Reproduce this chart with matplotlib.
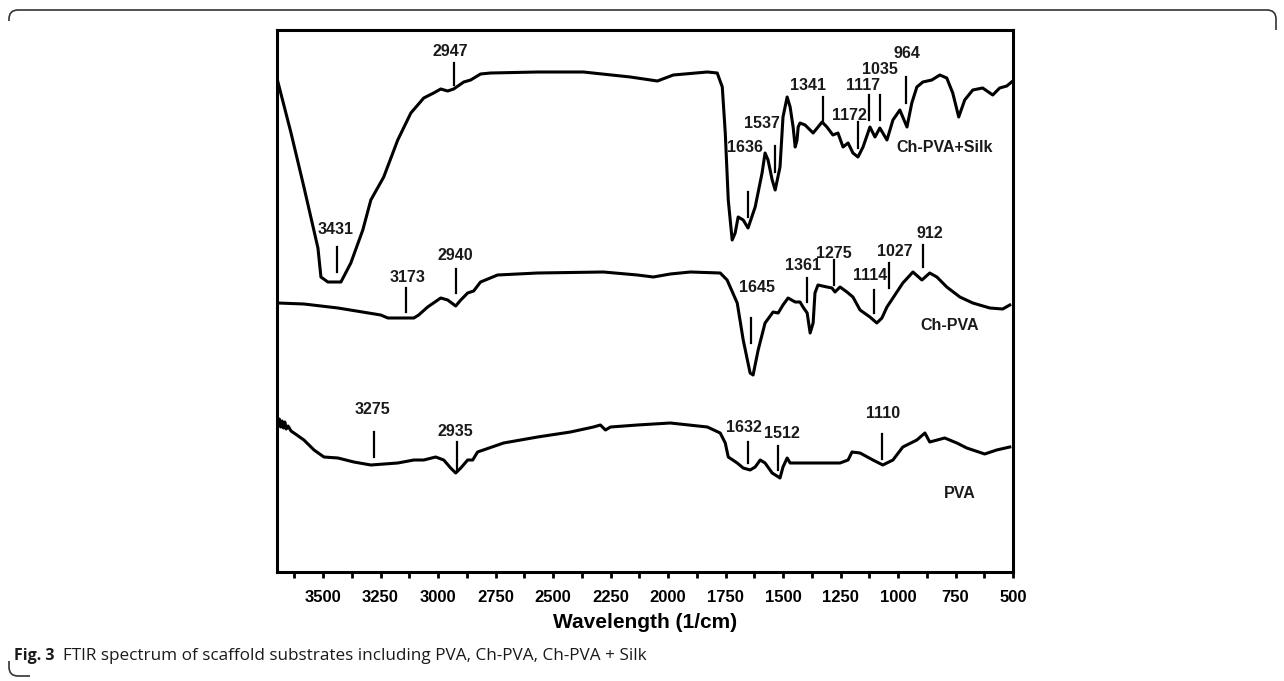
import numpy as np
import matplotlib
matplotlib.use("Agg")
import matplotlib.pyplot as plt
from matplotlib.path import Path
from matplotlib.patches import PathPatch
from matplotlib.ticker import MultipleLocator

plt.rcParams['font.family'] = ['Liberation Sans', 'DejaVu Sans']

# Ch-PVA+Silk spectrum (wavenumber, transmittance a.u.)
silk_wn = [3696, 3639, 3583, 3522, 3509, 3479, 3422, 3379, 3327, 3292, 3236, 3175,
           3118, 3062, 3019, 2988, 2958, 2932, 2888, 2858, 2815, 2771, 2567, 2368,
           2164, 2046, 1977, 1829, 1786, 1764, 1751, 1738, 1721, 1708, 1695, 1673,
           1652, 1621, 1591, 1578, 1565, 1547, 1534, 1513, 1500, 1482, 1469, 1456,
           1447, 1439, 1434, 1426, 1404, 1369, 1330, 1309, 1283, 1261, 1239, 1217,
           1196, 1174, 1152, 1122, 1100, 1079, 1048, 1022, 992, 961, 940, 918, 892,
           853, 818, 788, 762, 736, 710, 675, 632, 588, 558, 527, 506]
silk_t = [490, 439, 385, 324, 295, 290, 290, 309, 342, 372, 395, 432,
          459, 474, 479, 483, 481, 483, 490, 492, 498, 499, 500, 500,
          495, 491, 497, 500, 499, 485, 439, 372, 332, 339, 355, 352,
          344, 365, 399, 419, 412, 392, 382, 405, 455, 475, 465, 445,
          425, 432, 445, 449, 447, 439, 450, 445, 437, 439, 425, 429,
          419, 415, 425, 445, 435, 444, 432, 452, 462, 445, 469, 485, 490,
          492, 497, 494, 479, 455, 472, 482, 484, 477, 484, 486, 490]

# Ch-PVA spectrum
chpva_wn = [3696, 3583, 3435, 3249, 3218, 3105, 3084, 3045, 2988, 2958, 2923, 2901,
            2871, 2845, 2815, 2741, 2567, 2281, 2133, 2064, 1990, 1903, 1773, 1743,
            1699, 1673, 1643, 1630, 1608, 1578, 1543, 1521, 1500, 1478, 1447, 1426,
            1413, 1395, 1382, 1369, 1361, 1348, 1309, 1287, 1274, 1252, 1222, 1196,
            1165, 1122, 1092, 1070, 1048, 1022, 979, 935, 896, 862, 831, 788, 731,
            675, 601, 545, 514]
chpva_t = [269, 268, 264, 257, 254, 254, 257, 265, 274, 272, 266, 272,
           279, 281, 290, 297, 299, 300, 297, 295, 298, 300, 299, 292,
           269, 232, 199, 197, 222, 249, 260, 259, 267, 274, 270, 270,
           265, 259, 239, 249, 279, 287, 285, 284, 280, 285, 280, 275,
           262, 255, 249, 254, 265, 274, 289, 300, 292, 299, 295, 285, 275,
           269, 264, 263, 267]

# PVA spectrum
pva_wn = [3696, 3690, 3684, 3678, 3672, 3666, 3660, 3652, 3639, 3620, 3583, 3539,
          3496, 3435, 3366, 3292, 3175, 3105, 3062, 3010, 2975, 2945, 2923, 2901,
          2871, 2849, 2828, 2715, 2567, 2424, 2324, 2294, 2272, 2250, 2133, 1990,
          1829, 1773, 1751, 1738, 1699, 1673, 1643, 1621, 1599, 1578, 1547, 1513,
          1500, 1482, 1469, 1439, 1252, 1217, 1200, 1165, 1109, 1066, 1022, 979,
          918, 883, 862, 797, 744, 701, 623, 571, 514]
pva_t = [149, 153, 145, 151, 144, 150, 143, 146, 141, 138, 132, 122,
         115, 114, 110, 107, 109, 112, 112, 115, 112, 104, 99, 104,
         112, 112, 120, 129, 135, 140, 145, 147, 142, 145, 147, 149,
         145, 139, 129, 115, 109, 104, 102, 105, 112, 109, 99, 94,
         105, 114, 109, 109, 109, 112, 120, 119, 112, 107, 112, 125,
         132, 139, 130, 134, 129, 124, 118, 122, 125]

# peak labels: text, marker position, marker bottom/top, text position
silk_peaks = ['3431', '2947', '1636', '1537', '1341', '1172', '1117', '1035', '964']
silk_mark_x = [3440, 2932, 1652, 1534, 1326, 1174, 1126, 1079, 966]
silk_mark_y = [(300, 325), (487, 509), (355, 380), (400, 426), (449, 475),
               (424, 450), (452, 477), (452, 477), (469, 495)]
silk_text_xy = [(3444, 342), (2945, 520), (1665, 425), (1591, 449), (1391, 487),
                (1209, 457), (1152, 487), (1079, 502), (961, 519)]

chpva_peaks = ['3173', '2940', '1645', '1361', '1275', '1114', '1027', '912']
chpva_mark_x = [3140, 2923, 1639, 1395, 1278, 1105, 1040, 892]
chpva_mark_y = [(260, 284), (279, 303), (229, 254), (270, 294), (287, 312),
                (259, 282), (284, 309), (305, 327)]
chpva_text_xy = [(3131, 294), (2923, 316), (1612, 284), (1413, 307), (1278, 318),
                 (1122, 297), (1014, 321), (862, 339)]

pva_peaks = ['3275', '2935', '1632', '1512', '1110']
pva_mark_x = [3279, 2919, 1651, 1521, 1070]
pva_mark_y = [(115, 140), (102, 130), (109, 130), (102, 126), (113, 138)]
pva_text_xy = [(3283, 162), (2923, 141), (1669, 144), (1504, 138), (1066, 159)]

series_names = ['Ch-PVA+Silk', 'Ch-PVA', 'PVA']
series_name_xy = [(797, 424), (775, 247), (731, 79)]

W, H = 1284, 681
fig = plt.figure(figsize=(W / 100, H / 100), dpi=100)
ax = fig.add_axes([277 / W, 1 - 572 / H, 736 / W, 542 / H])

for wn, t in [(silk_wn, silk_t), (chpva_wn, chpva_t), (pva_wn, pva_t)]:
    ax.plot(wn, t, color='black', lw=2.2, solid_joinstyle='round')

for peaks, mx, my, txy in [(silk_peaks, silk_mark_x, silk_mark_y, silk_text_xy),
                           (chpva_peaks, chpva_mark_x, chpva_mark_y, chpva_text_xy),
                           (pva_peaks, pva_mark_x, pva_mark_y, pva_text_xy)]:
    for lab, x, (y0, y1), (tx, ty) in zip(peaks, mx, my, txy):
        ax.plot([x, x], [y0, y1], color='black', lw=1.6)
        ax.text(tx, ty, lab, ha='center', va='center', fontsize=11.5, fontweight='bold',
                color='#1a1a1a')

for name, (tx, ty) in zip(series_names, series_name_xy):
    ax.text(tx, ty, name, ha='center', va='center', fontsize=11.5, fontweight='bold',
            color='#1a1a1a')

ax.set_xlim(3700, 500)
ax.set_ylim(0, 542)
ax.xaxis.set_minor_locator(MultipleLocator(125))
ax.set_xticks(np.arange(500, 3501, 250))
ax.tick_params(axis='x', which='both', direction='out', length=4, width=2, pad=9,
               labelsize=12)
for lbl in ax.get_xticklabels():
    lbl.set_fontweight('bold')
ax.set_yticks([])
for sp in ax.spines.values():
    sp.set_linewidth(2.2)
ax.set_xlabel('Wavelength (1/cm)', fontsize=15, fontweight='bold', labelpad=6)

# caption
fig.text(14 / W, 1 - 656 / H, 'Fig. 3', fontsize=11.5, fontweight='bold',
         family='Open Sans', va='center', color='#1a1a1a')
fig.text(63 / W, 1 - 656 / H, 'FTIR spectrum of scaffold substrates including PVA, Ch-PVA, Ch-PVA + Silk',
         fontsize=12.35, family='Open Sans', va='center', color='#1a1a1a')

# rounded frame (left and top edges)
r = 9
verts = [(9, 660), (9, H - 10 - r), (9, H - 10), (9 + r, H - 10),
         (1276 - r, H - 10), (1276, H - 10), (1276, H - 10 - r), (1276, H - 30)]
codes = [Path.MOVETO, Path.LINETO, Path.CURVE3, Path.CURVE3,
         Path.LINETO, Path.CURVE3, Path.CURVE3, Path.LINETO]
frame = PathPatch(Path([(x / W, y / H) for x, y in verts], codes), fill=False,
                  lw=1.2, edgecolor='#333333', transform=fig.transFigure)
fig.add_artist(frame)
verts_b = [(9, 20), (9, 5 + r), (9, 5), (9 + r, 5), (30, 5)]
codes_b = [Path.MOVETO, Path.LINETO, Path.CURVE3, Path.CURVE3, Path.LINETO]
fig.add_artist(PathPatch(Path([(x / W, y / H) for x, y in verts_b], codes_b), fill=False,
                         lw=1.2, edgecolor='#333333', transform=fig.transFigure))

fig.savefig('out.png', dpi=100)
